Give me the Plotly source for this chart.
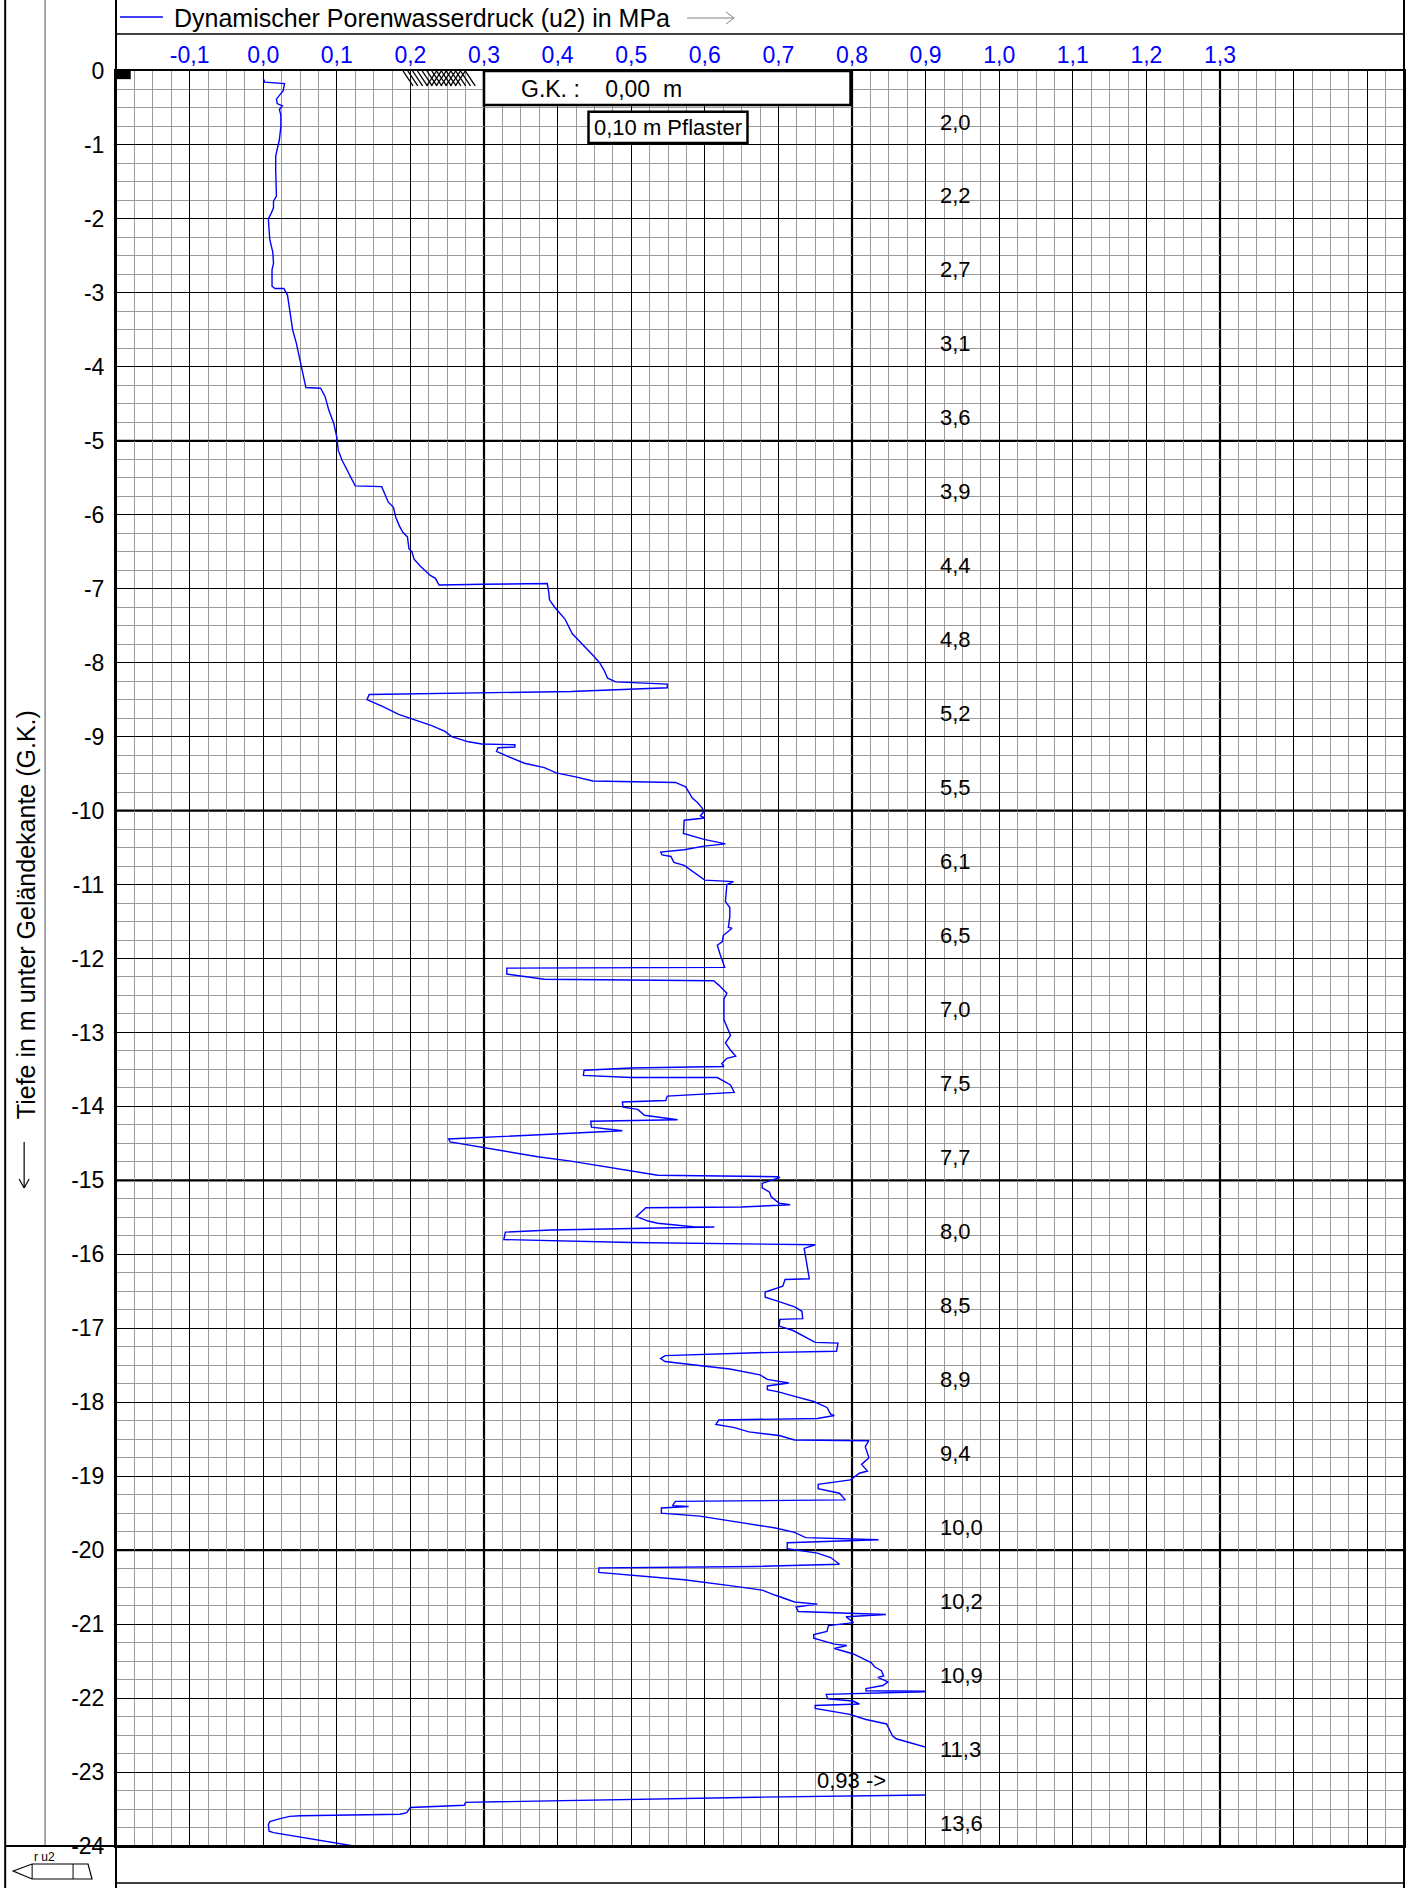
import plotly.graph_objects as go

# ---------------- data ----------------
U2 = [0.000, 0.002, 0.029, 0.028, 0.027, 0.022, 0.018, 0.019, 0.026, 0.022,
      0.024, 0.024, 0.022, 0.019, 0.017, 0.017, 0.017, 0.018, 0.014, 0.014,
      0.011, 0.007, 0.008, 0.009, 0.013, 0.014, 0.012, 0.012, 0.016, 0.028,
      0.033, 0.037, 0.040, 0.045, 0.048, 0.050, 0.053, 0.057, 0.058, 0.078,
      0.084, 0.089, 0.096, 0.100, 0.102, 0.107, 0.114, 0.120, 0.125, 0.161,
      0.165, 0.170, 0.177, 0.180, 0.185, 0.190, 0.196, 0.198, 0.202, 0.205,
      0.214, 0.227, 0.234, 0.239, 0.300, 0.386, 0.388, 0.389, 0.396, 0.410,
      0.420, 0.436, 0.448, 0.457, 0.463, 0.468, 0.479, 0.549, 0.549, 0.418,
      0.144, 0.141, 0.162, 0.184, 0.200, 0.229, 0.247, 0.256, 0.279, 0.297,
      0.342, 0.342, 0.319, 0.317, 0.333, 0.355, 0.382, 0.398, 0.423, 0.448,
      0.560, 0.574, 0.583, 0.590, 0.596, 0.599, 0.594, 0.600, 0.572, 0.571,
      0.599, 0.628, 0.599, 0.572, 0.540, 0.542, 0.554, 0.558, 0.572, 0.583,
      0.594, 0.600, 0.639, 0.630, 0.628, 0.634, 0.634, 0.632, 0.637, 0.625,
      0.624, 0.617, 0.621, 0.625, 0.627, 0.331, 0.331, 0.382, 0.500, 0.612,
      0.619, 0.630, 0.626, 0.626, 0.635, 0.628, 0.635, 0.642, 0.630, 0.623,
      0.626, 0.500, 0.436, 0.435, 0.500, 0.617, 0.635, 0.640, 0.549, 0.547,
      0.488, 0.489, 0.509, 0.518, 0.563, 0.445, 0.446, 0.488, 0.382, 0.252,
      0.254, 0.328, 0.373, 0.418, 0.500, 0.536, 0.699, 0.702, 0.678, 0.678,
      0.688, 0.690, 0.701, 0.716, 0.650, 0.520, 0.507, 0.523, 0.536, 0.587,
      0.613, 0.391, 0.329, 0.327, 0.500, 0.750, 0.735, 0.737, 0.740, 0.742,
      0.709, 0.706, 0.682, 0.682, 0.701, 0.722, 0.732, 0.733, 0.702, 0.701,
      0.720, 0.737, 0.750, 0.781, 0.779, 0.670, 0.546, 0.540, 0.546, 0.598,
      0.634, 0.675, 0.685, 0.714, 0.685, 0.685, 0.700, 0.722, 0.748, 0.766,
      0.771, 0.776, 0.753, 0.619, 0.615, 0.639, 0.660, 0.701, 0.722, 0.823,
      0.818, 0.823, 0.813, 0.821, 0.810, 0.798, 0.754, 0.754, 0.783, 0.791,
      0.560, 0.556, 0.578, 0.541, 0.541, 0.593, 0.696, 0.722, 0.737, 0.836,
      0.712, 0.712, 0.753, 0.771, 0.783, 0.670, 0.456, 0.456, 0.500, 0.572,
      0.634, 0.678, 0.696, 0.722, 0.753, 0.724, 0.727, 0.846, 0.792, 0.802,
      0.768, 0.766, 0.748, 0.748, 0.776, 0.793, 0.776, 0.801, 0.826, 0.831,
      0.840, 0.843, 0.835, 0.849, 0.842, 0.819, 0.819, 0.920, 0.765, 0.767,
      0.801, 0.810, 0.750, 0.750, 0.797, 0.819, 0.847, 0.851, 0.855, 0.860,
      0.878, 0.900, 0.930, 0.930, 0.900, 0.670, 0.360, 0.275, 0.273, 0.200,
      0.195, 0.186, 0.050, 0.036, 0.023, 0.009, 0.007, 0.008, 0.014, 0.050,
      0.082, 0.105, 0.123]

DEPTH = [-0.10, -0.15, -0.17, -0.22, -0.27, -0.33, -0.38, -0.44, -0.47, -0.52,
         -0.60, -0.75, -0.93, -1.06, -1.15, -1.35, -1.56, -1.69, -1.76, -1.85,
         -1.92, -2.00, -2.15, -2.28, -2.45, -2.60, -2.69, -2.91, -2.94, -2.94,
         -3.03, -3.27, -3.50, -3.68, -3.82, -3.95, -4.09, -4.25, -4.28, -4.29,
         -4.40, -4.58, -4.77, -4.95, -5.13, -5.26, -5.40, -5.53, -5.61, -5.62,
         -5.71, -5.83, -5.90, -6.03, -6.15, -6.24, -6.30, -6.46, -6.50, -6.60,
         -6.70, -6.82, -6.86, -6.95, -6.94, -6.93, -7.05, -7.15, -7.25, -7.41,
         -7.61, -7.77, -7.90, -8.00, -8.10, -8.21, -8.26, -8.29, -8.34, -8.39,
         -8.43, -8.50, -8.59, -8.70, -8.75, -8.85, -8.93, -9.00, -9.07, -9.10,
         -9.11, -9.14, -9.15, -9.20, -9.27, -9.36, -9.42, -9.49, -9.54, -9.60,
         -9.62, -9.68, -9.83, -9.89, -9.96, -10.01, -10.07, -10.10, -10.13, -10.31,
         -10.39, -10.45, -10.48, -10.53, -10.56, -10.60, -10.62, -10.70, -10.74, -10.82,
         -10.89, -10.94, -10.96, -11.00, -11.23, -11.31, -11.43, -11.58, -11.59, -11.69,
         -11.77, -11.82, -11.95, -12.08, -12.12, -12.13, -12.21, -12.28, -12.29, -12.30,
         -12.36, -12.47, -12.55, -12.83, -13.04, -13.14, -13.24, -13.32, -13.35, -13.42,
         -13.46, -13.48, -13.51, -13.58, -13.61, -13.61, -13.71, -13.81, -13.86, -13.92,
         -13.94, -14.01, -14.04, -14.12, -14.18, -14.20, -14.28, -14.33, -14.38, -14.44,
         -14.48, -14.61, -14.68, -14.74, -14.87, -14.93, -14.95, -14.96, -15.04, -15.10,
         -15.16, -15.22, -15.31, -15.33, -15.36, -15.37, -15.49, -15.55, -15.58, -15.63,
         -15.63, -15.67, -15.70, -15.80, -15.84, -15.87, -15.92, -16.04, -16.19, -16.33,
         -16.34, -16.43, -16.51, -16.58, -16.64, -16.71, -16.77, -16.87, -16.88, -16.97,
         -17.03, -17.12, -17.19, -17.20, -17.31, -17.33, -17.37, -17.41, -17.45, -17.51,
         -17.55, -17.63, -17.69, -17.74, -17.78, -17.83, -17.86, -17.92, -17.99, -18.07,
         -18.16, -18.18, -18.22, -18.24, -18.30, -18.34, -18.40, -18.45, -18.51, -18.52,
         -18.60, -18.75, -18.84, -18.93, -18.96, -19.05, -19.11, -19.17, -19.23, -19.32,
         -19.34, -19.40, -19.41, -19.43, -19.50, -19.54, -19.70, -19.76, -19.83, -19.86,
         -19.90, -19.98, -20.04, -20.10, -20.19, -20.22, -20.24, -20.30, -20.34, -20.40,
         -20.48, -20.54, -20.61, -20.70, -20.73, -20.77, -20.83, -20.87, -20.90, -20.98,
         -21.02, -21.10, -21.14, -21.19, -21.27, -21.29, -21.33, -21.40, -21.52, -21.58,
         -21.63, -21.70, -21.72, -21.78, -21.83, -21.87, -21.90, -21.91, -21.95, -22.01,
         -22.04, -22.08, -22.10, -22.14, -22.22, -22.29, -22.35, -22.42, -22.51, -22.55,
         -22.60, -22.67, -22.75, -23.30, -23.31, -23.34, -23.39, -23.41, -23.45, -23.48,
         -23.55, -23.57, -23.59, -23.60, -23.63, -23.67, -23.71, -23.80, -23.82, -23.88,
         -23.94, -23.97, -24.00]

SERIES_NAME = "Dynamischer Porenwasserdruck (u2) in MPa"

X_GRID_VALUES = [-0.2, -0.1, 0.0, 0.1, 0.2, 0.3, 0.4, 0.5, 0.6, 0.7, 0.8,
                 0.9, 1.0, 1.1, 1.2, 1.3, 1.4, 1.5]
X_TICK_LABELS = ["", "-0,1", "0,0", "0,1", "0,2", "0,3", "0,4", "0,5", "0,6",
                 "0,7", "0,8", "0,9", "1,0", "1,1", "1,2", "1,3", "", ""]

Y_TICK_VALUES = [0, -1, -2, -3, -4, -5, -6, -7, -8, -9, -10, -11, -12, -13,
                 -14, -15, -16, -17, -18, -19, -20, -21, -22, -23, -24]
Y_TICK_LABELS = ["0", "-1", "-2", "-3", "-4", "-5", "-6", "-7", "-8", "-9",
                 "-10", "-11", "-12", "-13", "-14", "-15", "-16", "-17", "-18",
                 "-19", "-20", "-21", "-22", "-23", "-24"]

# values written per metre in the right column
METER_LABELS = ["2,0", "2,2", "2,7", "3,1", "3,6", "3,9", "4,4", "4,8", "5,2",
                "5,5", "6,1", "6,5", "7,0", "7,5", "7,7", "8,0", "8,5", "8,9",
                "9,4", "10,0", "10,2", "10,9", "11,3", "13,6"]

GK_TEXT = "G.K. :\u00a0\u00a0\u00a0 0,00\u00a0\u00a0m"
LAYER_TEXT = "0,10 m Pflaster"
MAX_NOTE = "0,93 ->"
Y_TITLE = "Tiefe in m unter Geländekante (G.K.)"

# ---------------- layout geometry ----------------
W, H = 1414, 1888
L, R, T, B = 116, 1406, 71, 1846
X_RANGE = [-0.2, 1.55]
Y_RANGE = [-24, 0]
CLIP_X = 0.9
FONT = "Liberation Sans, Arial, sans-serif"


def px(xp):
    return (xp - L) / (R - L)


def py(yp):
    return (B - yp) / (B - T)


fig = go.Figure()
fig.add_trace(go.Scatter(
    x=U2, y=DEPTH, mode="lines", name=SERIES_NAME,
    line=dict(color="#0000ff", width=1.4), xaxis="x2", yaxis="y2",
    showlegend=False, hoverinfo="skip"))

minor_grid = "#9a9a9a"
fig.update_layout(
    width=W, height=H,
    margin=dict(l=L, r=W - R, t=T, b=H - B, pad=0),
    paper_bgcolor="white", plot_bgcolor="rgba(0,0,0,0)",
    font=dict(family=FONT, size=23, color="black"),
    showlegend=False,
    xaxis=dict(
        range=X_RANGE, domain=[0, 1], side="top", tickmode="array",
        tickvals=X_GRID_VALUES, ticktext=X_TICK_LABELS,
        tickfont=dict(color="#0000ff", size=23, family=FONT),
        ticks="", showgrid=True, gridcolor="black", gridwidth=1,
        minor=dict(tickmode="linear", tick0=0, dtick=0.025, showgrid=True,
                   gridcolor=minor_grid, gridwidth=1, ticks=""),
        showline=True, linecolor="black", linewidth=2, mirror=True,
        zeroline=False, fixedrange=True, ticklabelstandoff=-3),
    yaxis=dict(
        range=Y_RANGE, domain=[0, 1], tickmode="array",
        tickvals=Y_TICK_VALUES, ticktext=Y_TICK_LABELS,
        tickfont=dict(color="black", size=23, family=FONT),
        ticks="", showgrid=True, gridcolor="black", gridwidth=1,
        minor=dict(tickmode="linear", tick0=0, dtick=0.25, showgrid=True,
                   gridcolor=minor_grid, gridwidth=1, ticks=""),
        showline=True, linecolor="black", linewidth=2, mirror=True,
        zeroline=False, fixedrange=True, ticklabelstandoff=5),
    xaxis2=dict(range=[X_RANGE[0], CLIP_X],
                domain=[0, (CLIP_X - X_RANGE[0]) / (X_RANGE[1] - X_RANGE[0])],
                anchor="y2", visible=False, showgrid=False, zeroline=False,
                fixedrange=True),
    yaxis2=dict(range=Y_RANGE, domain=[0, 1], anchor="x2", visible=False,
                showgrid=False, zeroline=False, fixedrange=True),
)

shapes = []
# thick grid lines every 0.5 MPa / 5 m
for xv in [0.3, 0.8, 1.3]:
    shapes.append(dict(type="line", xref="x", yref="y", x0=xv, x1=xv,
                       y0=Y_RANGE[0], y1=Y_RANGE[1],
                       line=dict(color="black", width=2.2), layer="below"))
for yv in [-5, -10, -15, -20]:
    shapes.append(dict(type="line", xref="x", yref="y", x0=X_RANGE[0],
                       x1=X_RANGE[1], y0=yv, y1=yv,
                       line=dict(color="black", width=2.2), layer="below"))


def pline(x0, y0, x1, y1, color="black", width=2):
    shapes.append(dict(type="line", xref="paper", yref="paper",
                       x0=px(x0), y0=py(y0), x1=px(x1), y1=py(y1),
                       line=dict(color=color, width=width), layer="above"))


# frame
pline(5, 0, 5, H, width=2)
pline(45, 0, 45, B, color="#8a8a8a", width=1.5)
pline(L, 0, L, H, width=2)
pline(R, 0, R, H, width=2)
pline(L, 34, R, 34, width=1.5)
pline(5, B, R, B, width=2)
pline(L, 1883, R, 1883, width=1.5)

# legend sample line and arrow
pline(120, 17, 163, 17, color="#0000ff", width=1.5)
pline(688, 18, 735, 18, color="#808080", width=1)
pline(727, 12, 735, 18, color="#808080", width=1)
pline(727, 24, 735, 18, color="#808080", width=1)

# y title arrow (pointing down)
pline(24, 1142, 24, 1188, width=1.2)
pline(19, 1179, 24, 1188, width=1.2)
pline(29, 1179, 24, 1188, width=1.2)


# probe pictogram bottom left
def ppath(points, width=1.2):
    d = "M " + " L ".join(f"{px(a):.5f},{py(b):.5f}" for a, b in points) + " Z"
    shapes.append(dict(type="path", xref="paper", yref="paper", path=d,
                       line=dict(color="black", width=width), layer="above"))


ppath([(13, 1871), (32, 1864), (88, 1864), (92, 1879), (32, 1879)])
pline(32, 1864, 32, 1879, width=1)
pline(73, 1864, 73, 1879, width=1)

# G.K. box and layer box
shapes.append(dict(type="rect", xref="x", yref="y", x0=0.3, x1=0.798,
                   y0=-0.46, y1=0, fillcolor="white",
                   line=dict(color="black", width=2.5), layer="above"))
shapes.append(dict(type="rect", xref="x", yref="y", x0=0.442, x1=0.658,
                   y0=-0.975, y1=-0.55, fillcolor="white",
                   line=dict(color="black", width=2.5), layer="above"))

# small black marker top left
shapes.append(dict(type="rect", xref="x", yref="y", x0=-0.2, x1=-0.18,
                   y0=-0.11, y1=0, fillcolor="black",
                   line=dict(color="black", width=0), layer="above"))

# hatch symbol (paving)
for i in range(14):
    x0 = 0.19 + i * 0.0065
    shapes.append(dict(type="line", xref="x", yref="y", x0=x0, y0=0,
                       x1=x0 + 0.0136, y1=-0.2,
                       line=dict(color="black", width=1.3), layer="above"))
for i in range(7):
    x0 = 0.222 + i * 0.0065
    shapes.append(dict(type="line", xref="x", yref="y", x0=x0 + 0.0136, y0=0,
                       x1=x0, y1=-0.2,
                       line=dict(color="black", width=1.3), layer="above"))

fig.update_layout(shapes=shapes)

ann = []
ann.append(dict(xref="paper", yref="paper", x=px(172), y=py(18),
                xanchor="left", yanchor="middle", text=SERIES_NAME,
                showarrow=False, font=dict(size=25, color="black", family=FONT)))
ann.append(dict(xref="paper", yref="paper", x=px(26), y=py(915),
                xanchor="center", yanchor="middle", text=Y_TITLE,
                textangle=-90, showarrow=False,
                font=dict(size=25, color="black", family=FONT)))
ann.append(dict(xref="paper", yref="paper", x=px(32), y=py(1857),
                xanchor="left", yanchor="middle", text="r u2",
                showarrow=False, font=dict(size=12, color="black", family=FONT)))
ann.append(dict(xref="x", yref="y", x=0.347, y=-0.25, xanchor="left",
                yanchor="middle", text=GK_TEXT, showarrow=False,
                font=dict(size=23, color="black", family=FONT)))
ann.append(dict(xref="x", yref="y", x=0.55, y=-0.765, xanchor="center",
                yanchor="middle", text=LAYER_TEXT, showarrow=False,
                font=dict(size=22, color="black", family=FONT)))
ann.append(dict(xref="x", yref="y", x=0.75, y=-23.12, xanchor="left",
                yanchor="middle", text=MAX_NOTE, showarrow=False,
                font=dict(size=22, color="black", family=FONT)))
for k, lab in enumerate(METER_LABELS):
    ann.append(dict(xref="x", yref="y", x=0.917, y=-(k + 0.69),
                    xanchor="left", yanchor="middle", text=lab,
                    showarrow=False,
                    font=dict(size=22, color="black", family=FONT)))
fig.update_layout(annotations=ann)

fig.write_html("out.html")
